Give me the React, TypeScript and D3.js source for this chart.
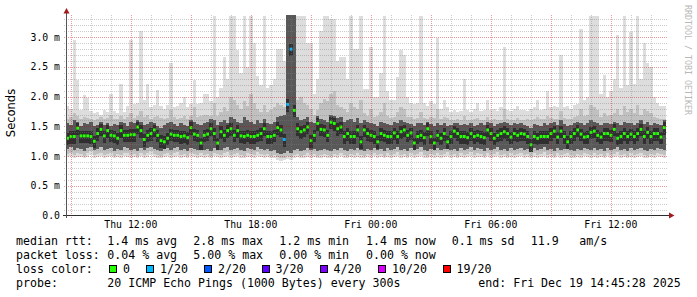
import React from 'react';
import * as d3 from 'd3';

// ---- data (milliseconds, stored as hundredths of ms), one value per 10-minute column ----
const medianRtt = [
  130,133,133,147,134,134,134,133,125,138,145,134,143,135,134,130,143,135,135,136,
  136,149,143,128,135,138,144,135,126,124,130,137,135,135,133,134,131,148,137,135,
  122,135,137,146,138,122,141,135,143,146,135,143,134,133,135,133,133,135,138,146,
  133,133,135,148,144,128,187,280,177,146,141,144,149,126,135,155,145,144,135,157,
  155,146,149,133,138,133,133,144,124,144,138,135,133,124,138,135,133,133,139,133,
  141,144,135,139,122,133,135,131,146,133,122,135,130,138,124,133,142,138,133,133,
  131,138,133,135,133,131,144,138,130,135,138,141,138,132,138,135,138,137,133,119,
  133,130,133,133,133,138,142,132,142,133,124,133,138,144,137,132,133,140,142,135,
  132,138,138,135,145,130,133,138,133,137,133,138,145,133,140,133,138,138,132,148,
];
const smokeMax = [
  185,180,296,228,178,203,197,176,172,175,170,178,174,205,176,172,222,175,184,296,
  188,190,311,194,222,183,186,211,185,180,186,256,182,185,190,200,182,188,228,188,
  190,205,205,192,335,200,215,267,230,335,335,278,240,335,250,335,290,235,220,335,
  215,220,230,280,280,260,340,340,340,335,335,335,290,290,204,230,310,335,335,330,
  330,260,266,266,230,335,280,280,335,213,213,284,200,200,240,335,210,194,194,233,
  278,270,200,190,188,190,335,190,185,192,188,298,180,194,182,175,178,174,176,230,
  178,175,180,190,176,178,195,177,180,176,182,283,178,176,180,185,177,178,176,180,
  182,194,178,180,210,182,185,183,270,182,185,180,186,188,314,195,200,335,335,335,
  205,236,200,210,230,303,215,335,220,309,222,335,230,290,256,250,200,190,185,185,
];
const smokeHigh = [
  163,165,172,168,162,166,164,163,160,162,166,163,164,170,163,162,168,163,165,172,
  164,167,176,165,170,163,165,168,164,162,164,178,165,163,164,167,163,168,182,166,
  167,170,169,168,190,168,174,182,176,200,195,186,180,192,184,205,190,180,174,186,
  174,177,183,190,186,182,340,340,340,195,200,190,186,180,170,177,190,196,192,205,
  210,186,183,180,174,190,183,180,194,172,168,180,166,168,174,190,168,164,166,174,
  183,180,166,165,163,164,174,164,162,165,164,180,162,165,164,161,161,162,160,168,
  161,160,163,164,161,160,166,160,163,160,161,180,163,160,161,164,161,160,162,161,
  162,166,163,162,168,164,163,163,176,164,162,163,165,168,180,168,170,186,182,178,
  166,172,168,170,172,180,170,184,174,180,172,186,170,180,176,172,166,164,163,163,
];
const smokeUpper = [
  156,152,160,158,150,155,154,157,150,152,158,153,156,150,154,152,158,155,150,157,
  155,160,158,152,154,157,155,150,148,152,156,158,154,150,155,152,150,160,158,154,
  152,156,158,162,160,152,158,160,156,165,162,158,155,166,160,158,154,160,156,162,
  156,154,158,165,168,170,340,340,340,165,160,162,166,158,155,168,162,160,158,170,
  168,164,165,158,160,162,158,164,155,160,158,156,154,150,158,156,154,152,157,155,
  160,158,156,154,150,155,156,152,158,154,150,156,152,155,150,153,156,155,152,154,
  152,155,150,153,156,152,158,155,150,154,156,158,155,152,156,154,155,152,150,148,
  154,152,150,155,153,156,158,152,160,154,150,153,156,158,156,152,155,160,158,155,
  152,156,155,154,158,156,153,158,155,156,152,156,160,154,158,152,156,154,152,160,
];
const smokeLower = [
  112,115,110,114,112,108,113,116,110,112,115,110,112,114,108,112,110,115,113,110,
  112,108,114,110,113,116,112,110,108,112,114,110,113,115,110,112,108,114,112,110,
  113,110,112,108,114,112,110,113,115,110,112,114,110,108,113,112,110,115,112,110,
  112,108,110,106,104,105,108,106,110,112,108,110,113,110,112,108,110,112,110,108,
  112,110,114,110,108,112,110,113,110,108,112,110,114,110,112,108,113,110,112,115,
  110,112,108,114,110,112,115,110,108,112,110,113,110,112,115,110,112,108,113,110,
  112,115,110,113,112,108,114,110,112,115,110,112,108,113,110,112,114,110,112,108,
  113,110,112,115,110,112,108,114,110,112,113,110,108,112,110,114,112,110,113,110,
  112,108,114,110,112,115,110,112,108,113,110,112,114,110,108,112,110,114,112,110,
];
const smokeLow = [
  104,106,102,105,104,100,105,108,102,104,106,102,104,106,100,104,102,106,105,102,
  104,100,106,102,105,108,104,102,100,104,106,102,105,107,102,104,100,106,104,102,
  105,102,104,100,106,104,102,105,107,102,104,106,102,100,105,104,102,107,104,102,
  104,100,102,98,96,97,100,98,102,104,100,102,105,102,104,100,102,104,102,100,
  104,102,106,102,100,104,102,105,102,100,104,102,106,102,104,100,105,102,104,107,
  102,104,100,106,102,104,107,102,100,104,102,105,102,104,107,102,104,100,105,102,
  104,107,102,105,104,100,106,102,104,107,102,104,100,105,102,104,106,102,104,100,
  105,102,104,107,102,104,100,106,102,104,105,102,100,104,102,106,104,102,105,102,
  104,100,106,102,104,107,102,104,100,105,102,104,106,102,100,104,102,106,104,102,
];
const smokeMin = [
  99,100,97,99,98,96,99,101,97,98,100,97,99,100,96,98,97,100,99,97,
  98,96,100,97,99,101,98,97,96,98,100,97,99,100,97,98,96,100,98,97,
  99,97,98,96,100,98,97,99,100,97,98,100,97,96,99,98,97,100,98,97,
  98,96,97,94,92,93,95,94,97,98,96,97,99,97,98,96,97,98,97,96,
  98,97,100,97,96,98,97,99,97,96,98,97,100,97,98,96,99,97,98,100,
  97,98,96,100,97,98,100,97,96,98,97,99,97,98,100,97,98,96,99,97,
  98,100,97,99,98,96,100,97,98,100,97,98,96,99,97,98,100,97,98,96,
  99,97,98,100,97,98,96,100,97,98,99,97,96,98,97,100,98,97,99,97,
  98,96,100,97,98,100,97,98,96,99,97,98,100,97,96,98,97,100,98,97,
];
// columns with lost pings (index, pings lost out of 20)
const lossColumns = [65, 66, 67];
const lossCounts = [1, 1, 1];

const yTicks = [0, 0.5, 1.0, 1.5, 2.0, 2.5, 3.0];
const yTickLabels = ['0.0', '0.5 m', '1.0 m', '1.5 m', '2.0 m', '2.5 m', '3.0 m'];

const lossLevels = [0, 1, 2, 3, 4, 10, 19];
const lossLabels = ['0', '1/20', '2/20', '3/20', '4/20', '10/20', '19/20'];
const lossColors = ['#26ff00', '#00b8ff', '#0059ff', '#5e00ff', '#7e00ff', '#dd00ff', '#ff0000'];

const rttStats = ['1.4 ms avg', '2.8 ms max', '1.2 ms min', '1.4 ms now', '0.1 ms sd', '11.9', 'am/s'];
const lossStats = ['0.04 % avg', '5.00 % max', '0.00 % min', '0.00 % now'];
const probeText = '20 ICMP Echo Pings (1000 Bytes) every 300s';
const endText = 'end: Fri Dec 19 14:45:28 2025';

const tStart = new Date(2025, 11, 18, 8, 45, 28);
const tEnd = new Date(2025, 11, 19, 14, 45, 28);

// ---- layout ----
const W = 697, H = 297;
const X0 = 66, X1 = 666, Y0 = 215.5, Y1 = 15;
const Y_MAX = 3.375;
const MONO = '"DejaVu Sans Mono", monospace';
const statX = [107.3, 193.3, 279.3, 366, 451.7, 530.7, 579.3];
const boxX = [109, 146, 204, 261.5, 319.5, 378, 442.5];
const lineY = [245.3, 259.1, 272.9, 286.7];

export default function App() {
  const x = d3.scaleTime().domain([tStart, tEnd]).range([X0, X1]);
  const y = d3.scaleLinear().domain([0, Y_MAX]).range([Y0, Y1]).clamp(true);
  const n = medianRtt.length;
  const step = (tEnd.getTime() - tStart.getTime()) / n;
  const colX = (i: number) => x(new Date(tStart.getTime() + i * step));
  const v = (h: number) => h / 100;

  const band = (lo: number[], hi: number[], fill: string, key: string) =>
    lo.map((l, i) => {
      const x0 = colX(i), x1 = colX(i + 1);
      const yt = y(v(hi[i])), yb = y(v(l));
      return <rect key={key + i} x={x0} y={yt} width={x1 - x0} height={Math.max(0, yb - yt)} fill={fill} />;
    });

  const hours = d3.timeHour.every(1)!.range(tStart, tEnd);
  const minorY = d3.range(1, 34).filter(k => k % 5 !== 0).map(k => k / 10);

  const lossColorOf = (i: number) => {
    const k = lossColumns.indexOf(i);
    if (k < 0) return lossColors[0];
    const cnt = lossCounts[k];
    let idx = 0;
    lossLevels.forEach((lv, j) => { if (cnt >= lv) idx = j; });
    return lossColors[idx];
  };

  const fmt = d3.timeFormat('%a %H:%M');

  return (
    <svg width={W} height={H} style={{ position: 'absolute', left: 0, top: 0, background: '#fff' }}
      xmlns="http://www.w3.org/2000/svg">
      <rect x={0} y={0} width={W} height={H} fill="#ffffff" />
      {/* smoke */}
      <g shapeRendering="crispEdges">
        {band(smokeMin, smokeMax, '#dddddd', 'a')}
        {band(smokeLow, smokeHigh, '#c0c0c0', 'b')}
        {band(smokeLower, smokeUpper, '#585858', 'c')}
        {medianRtt.map((m, i) => {
          const x0 = colX(i), x1 = colX(i + 1);
          const yt = y(v(m) + 0.09), yb = y(v(m) - 0.12);
          return <rect key={'d' + i} x={x0} y={yt} width={x1 - x0} height={yb - yt} fill="#2f2f2f" />;
        })}
      </g>
      {/* median */}
      <g>
        {medianRtt.map((m, i) => {
          const x0 = colX(i), x1 = colX(i + 1);
          return <rect key={'m' + i} x={x0 + 0.3} y={y(v(m)) - 1.5} width={x1 - x0 - 0.6} height={3} fill={lossColorOf(i)} />;
        })}
      </g>
      {/* grid on top */}
      <g strokeDasharray="1,1" strokeWidth={1} shapeRendering="crispEdges">
        {minorY.map(g => (
          <line key={'hy' + g} x1={X0 - 2} x2={X1 + 2} y1={Math.round(y(g)) + 0.5} y2={Math.round(y(g)) + 0.5}
            stroke="rgba(128,128,128,0.4)" />
        ))}
        {hours.filter(h => h.getHours() % 3 !== 0).map(h => (
          <line key={'vx' + h.getTime()} x1={Math.round(x(h)) + 0.5} x2={Math.round(x(h)) + 0.5} y1={Y1} y2={Y0 + 2}
            stroke="rgba(128,128,128,0.4)" />
        ))}
        {yTicks.filter(t => t > 0).map(g => (
          <line key={'hY' + g} x1={X0 - 2} x2={X1 + 2} y1={Math.round(y(g)) + 0.5} y2={Math.round(y(g)) + 0.5}
            stroke="rgba(200,0,0,0.4)" />
        ))}
        {hours.filter(h => h.getHours() % 3 === 0).map(h => (
          <line key={'vX' + h.getTime()} x1={Math.round(x(h)) + 0.5} x2={Math.round(x(h)) + 0.5} y1={Y1} y2={Y0 + 3}
            stroke="rgba(200,0,0,0.4)" />
        ))}
      </g>
      {/* axes */}
      <g shapeRendering="crispEdges">
        <line x1={X0 - 3} x2={X1 + 3} y1={215.5} y2={215.5} stroke="#2c2c2c" />
        <line x1={66.5} x2={66.5} y1={218} y2={13} stroke="#555555" />
      </g>
      <path d="M669,212.5 L674.5,215.5 L669,218.5 Z" fill="#a11b1b" />
      <path d="M63.5,13.5 L66.5,8 L69.5,13.5 Z" fill="#a11b1b" />
      {/* y tick labels */}
      <g fontFamily={MONO} fontSize={9.8} fill="#000">
        {yTicks.map((t, i) => (
          <text key={'yl' + i} x={60} y={y(t)} dy="0.35em" textAnchor="end">{yTickLabels[i]}</text>
        ))}
        {hours.filter(h => h.getHours() % 6 === 0).map(h => (
          <text key={'xl' + h.getTime()} x={x(h)} y={227.5} textAnchor="middle">{fmt(h)}</text>
        ))}
      </g>
      <text transform="translate(15,113) rotate(-90)" textAnchor="middle" fontFamily='"DejaVu Sans", sans-serif'
        fontSize={11.5} fill="#000">Seconds</text>
      <text transform="translate(684.5,5) rotate(90)" fontFamily={MONO} fontSize={8.3} fill="#b8b8b8">RRDTOOL / TOBI OETIKER</text>
      {/* legend */}
      <g fontFamily={MONO} fontSize={11.6} fill="#000" style={{ whiteSpace: 'pre' }}>
        <text x={16} y={lineY[0]}>median rtt:</text>
        {rttStats.map((s, i) => <text key={'r' + i} x={statX[i]} y={lineY[0]}>{s}</text>)}
        <text x={16} y={lineY[1]}>packet loss:</text>
        {lossStats.map((s, i) => <text key={'l' + i} x={statX[i]} y={lineY[1]}>{s}</text>)}
        <text x={16} y={lineY[2]}>loss color:</text>
        {lossLabels.map((s, i) => (
          <g key={'lc' + i}>
            <rect x={boxX[i] + 0.5} y={265.5} width={7} height={7} fill={lossColors[i]} stroke="#000" strokeWidth={1}
              shapeRendering="crispEdges" />
            <text x={boxX[i] + 14} y={lineY[2]}>{s}</text>
          </g>
        ))}
        <text x={16} y={lineY[3]}>probe:</text>
        <text x={statX[0]} y={lineY[3]}>{probeText}</text>
        <text x={478.3} y={lineY[3]}>{endText}</text>
      </g>
    </svg>
  );
}
